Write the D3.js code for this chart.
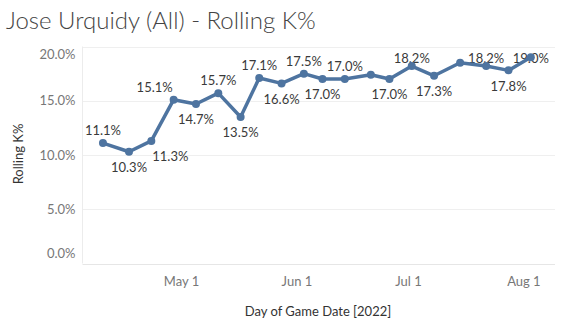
<!DOCTYPE html>
<html><head><meta charset="utf-8">
<script src="https://cdn.jsdelivr.net/npm/d3@7"></script>
<style>
body{margin:0;background:#fff}
svg{display:block}
text{font-family:Lato,"Open Sans",sans-serif}
</style>
</head><body>
<svg id="chart" width="567" height="327"></svg>
<script>
// ---- data ----
const gameDates = ["2022-04-10","2022-04-17","2022-04-23","2022-04-29","2022-05-05","2022-05-11","2022-05-17","2022-05-22","2022-05-28","2022-06-03","2022-06-08","2022-06-14","2022-06-21","2022-06-26","2022-07-02","2022-07-08","2022-07-15","2022-07-22","2022-07-28","2022-08-03"];
const rollingK = [0.111,0.103,0.113,0.151,0.147,0.157,0.135,0.171,0.166,0.175,0.170,0.170,0.174,0.170,0.182,0.173,0.185,0.182,0.178,0.190];
const labelPlacement = ["above","below","belowRight","aboveLeft","below","above","below","above","below","above","below","above","none","below","above","below","none","above","below","above"];
const yTickValues = [0,0.05,0.10,0.15,0.20];
const xTickDates = ["2022-05-01","2022-06-01","2022-07-01","2022-08-01"];
const xDomain = ["2022-04-04T12:00","2022-08-09T12:00"];
const titleText = "Jose Urquidy (All) - Rolling K%";
const xAxisTitle = "Day of Game Date [2022]";
const yAxisTitle = "Rolling K%";

// ---- layout ----
const svg = d3.select("#chart");
const plot = {left:82.5, right:555, top:46.5, bottom:263.5};
const parseDay = d3.timeParse("%Y-%m-%d");
const parseDT = d3.timeParse("%Y-%m-%dT%H:%M");
const data = gameDates.map((d,i)=>({date:parseDay(d), v:rollingK[i], place:labelPlacement[i]}));

const x = d3.scaleTime().domain(xDomain.map(parseDT)).range([plot.left, plot.right]);
const y = d3.scaleLinear().domain([0,0.2]).range([plot.bottom, plot.top]);
const fmt = d3.format(".1%");

// title
svg.append("text").attr("x",6).attr("y",29).attr("font-size",24).attr("font-weight",300).attr("fill","#444")
  .text(titleText);

// gridlines
svg.append("g").selectAll("line").data(yTickValues).join("line")
  .attr("x1",plot.left).attr("x2",plot.right)
  .attr("y1",d=>Math.round(y(d))+0.5).attr("y2",d=>Math.round(y(d))+0.5)
  .attr("stroke",d=>d===0?"#e6e6e6":"#efefef").attr("stroke-width",1);
// left border
svg.append("line").attr("x1",plot.left).attr("x2",plot.left).attr("y1",plot.top).attr("y2",plot.bottom)
  .attr("stroke","#ececec");

// y axis
const yAxis = d3.axisLeft(y).tickValues(yTickValues).tickFormat(fmt).tickSize(0).tickPadding(7);
const gy = svg.append("g").attr("transform",`translate(${plot.left},0)`).call(yAxis);
gy.select(".domain").remove();
gy.selectAll("text").attr("font-size",13).attr("fill","#777").attr("font-family","Lato,'Open Sans',sans-serif")
  .attr("y",d=>{const p=y(d); if(p<plot.top+8) return plot.top+8-p; if(p>plot.bottom-10) return plot.bottom-10-p; return 0;});

// x axis
const xAxis = d3.axisBottom(x).tickValues(xTickDates.map(parseDay)).tickFormat(d3.timeFormat("%b %-d")).tickSize(0).tickPadding(13);
const gx = svg.append("g").attr("transform",`translate(0,${plot.bottom})`).call(xAxis);
gx.select(".domain").remove();
gx.selectAll("text").attr("font-size",13).attr("fill","#777").attr("font-family","Lato,'Open Sans',sans-serif");

// axis titles
svg.append("text").attr("x",318).attr("y",316).attr("text-anchor","middle").attr("font-size",13).attr("fill","#333").text(xAxisTitle);
svg.append("text").attr("transform","translate(23,154) rotate(-90)").attr("text-anchor","middle").attr("font-size",13).attr("fill","#333").text(yAxisTitle);

// labels (drawn under the line)
const lab = svg.append("g").attr("font-size",13).attr("fill","#3a3a3a");
lab.selectAll("text").data(data.filter(d=>d.place!=="none")).join("text")
  .attr("text-anchor","middle")
  .attr("x",d=>x(d.date)+(d.place==="belowRight"?19:d.place==="aboveLeft"?-19:0))
  .attr("y",d=>{
    const p=y(d.v);
    let cy = (d.place==="above"||d.place==="aboveLeft") ? p-12.5 : p+15.5;
    if(cy<plot.top+12) cy=plot.top+12;
    return cy;})
  .attr("dy","0.36em")
  .text(d=>fmt(d.v));

// line
const line = d3.line().x(d=>x(d.date)).y(d=>y(d.v));
svg.append("path").datum(data).attr("d",line).attr("fill","none").attr("stroke","#4e74a0")
  .attr("stroke-width",3.5).attr("stroke-linejoin","round");
svg.append("g").selectAll("circle").data(data).join("circle")
  .attr("cx",d=>x(d.date)).attr("cy",d=>y(d.v)).attr("r",4).attr("fill","#4e74a0");
</script>
</body></html>
